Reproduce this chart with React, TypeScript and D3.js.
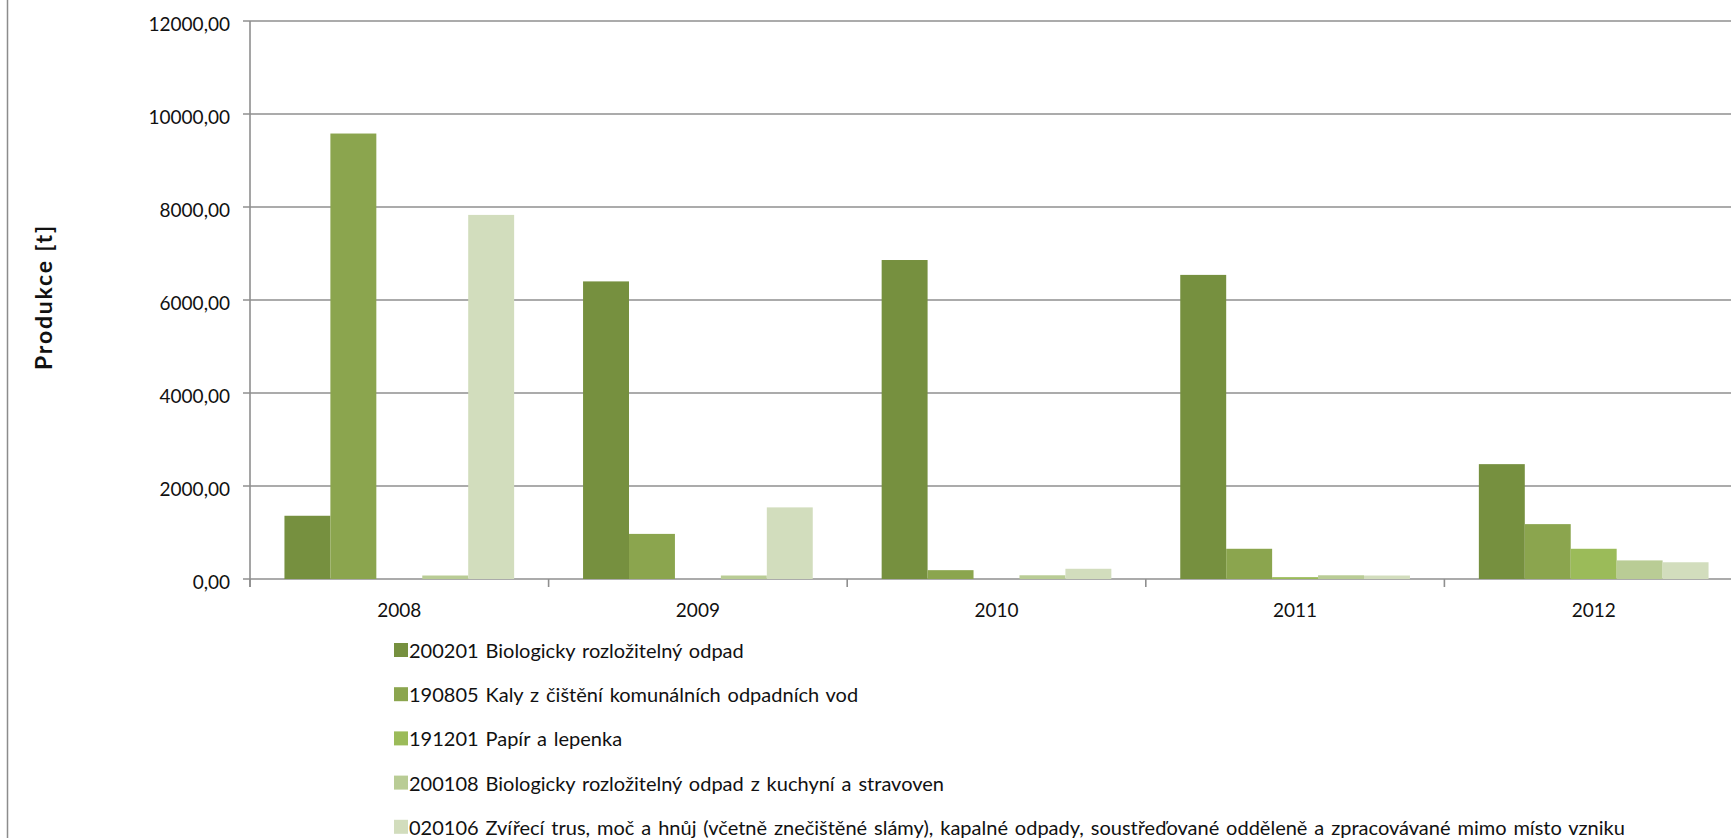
import React from "react";
import * as d3 from "d3";

const years = ["2008", "2009", "2010", "2011", "2012"];
const seriesNames = [
  "200201 Biologicky rozložitelný odpad",
  "190805 Kaly z čištění komunálních odpadních vod",
  "191201 Papír a lepenka",
  "200108 Biologicky rozložitelný odpad z kuchyní a stravoven",
  "020106 Zvířecí trus, moč a hnůj (včetně znečištěné slámy), kapalné odpady, soustřeďované odděleně a zpracovávané mimo místo vzniku",
];
const s200201 = [1360, 6400, 6860, 6540, 2470];
const s190805 = [9580, 970, 190, 650, 1180];
const s191201 = [0, 0, 0, 40, 650];
const s200108 = [75, 75, 80, 80, 400];
const s020106 = [7830, 1540, 220, 75, 360];
const seriesValues = [s200201, s190805, s191201, s200108, s020106];
const seriesColors = ["#76903f", "#8ba54e", "#9bbb59", "#b9cc95", "#d2ddbd"];
const yTicks = [0, 2000, 4000, 6000, 8000, 10000, 12000];
const yTitle = "Produkce [t]";

const W = 1731;
const H = 838;
const FONT = "Lato, 'Open Sans', sans-serif";

export default function App() {
  const x0 = d3.scaleBand<string>().domain(years).range([250, 1743]).paddingInner(0).paddingOuter(0);
  const x1 = d3
    .scaleBand<number>()
    .domain(seriesNames.map((_, i) => i))
    .range([0, x0.bandwidth()])
    .paddingInner(0)
    .paddingOuter(0.75);
  const y = d3.scaleLinear().domain([0, 12000]).range([579, 21]);
  const fmt = d3
    .formatLocale({ decimal: ",", thousands: "", grouping: [3], currency: ["", ""] })
    .format(".2f");

  const legendX = 394;
  const legendY0 = 650;
  const legendStep = 44.2;

  return (
    <div style={{ position: "absolute", left: 0, top: 0 }}>
      <svg width={W} height={H} style={{ display: "block", background: "#fff" }}>
        <line x1={7.5} x2={7.5} y1={0} y2={H} stroke="#8c8c8c" strokeWidth={1.5} />
        {yTicks.map((t) => (
          <line key={"g" + t} x1={243} x2={W} y1={y(t)} y2={y(t)} stroke="#8f8f8f" strokeWidth={1.6} />
        ))}
        <line x1={250} x2={250} y1={y(12000)} y2={y(0) + 8} stroke="#8f8f8f" strokeWidth={1.6} />
        {years.map((yr) => (
          <line key={"t" + yr} x1={x0(yr)!} x2={x0(yr)!} y1={y(0)} y2={y(0) + 8} stroke="#8f8f8f" strokeWidth={1.6} />
        ))}
        {years.map((yr, yi) => (
          <g key={"bars" + yr} transform={`translate(${x0(yr)},0)`}>
            {seriesValues.map((vals, si) => {
              const v = vals[yi];
              if (v <= 0) return null;
              return (
                <rect
                  key={si}
                  x={x1(si)!}
                  y={y(v)}
                  width={x1.bandwidth()}
                  height={y(0) - y(v)}
                  fill={seriesColors[si]}
                />
              );
            })}
          </g>
        ))}
        {yTicks.map((t) => (
          <text
            key={"l" + t}
            x={230}
            y={y(t) + 2}
            textAnchor="end"
            dominantBaseline="central"
            fontFamily={FONT}
            fontSize={19}
            fill="#111"
          >
            {fmt(t)}
          </text>
        ))}
        {years.map((yr) => (
          <text
            key={"x" + yr}
            x={x0(yr)! + x0.bandwidth() / 2}
            y={609}
            textAnchor="middle"
            dominantBaseline="central"
            fontFamily={FONT}
            fontSize={19}
            fill="#111"
          >
            {yr}
          </text>
        ))}
        <text
          transform={`translate(42.5,${(y(0) + y(12000)) / 2 - 3}) rotate(-90)`}
          textAnchor="middle"
          dominantBaseline="central"
          fontFamily={FONT}
          fontWeight="bold"
          fontSize={23}
          letterSpacing={1.8}
          fill="#111"
        >
          {yTitle}
        </text>
        {seriesNames.map((name, i) => (
          <g key={"leg" + i} transform={`translate(${legendX},${legendY0 + i * legendStep})`}>
            <rect x={0} y={-7} width={14} height={14} fill={seriesColors[i]} />
            <text
              x={15}
              y={0}
              dominantBaseline="central"
              fontFamily={FONT}
              fontSize={20}
              wordSpacing={1.8}
              fill="#111"
            >
              {name}
            </text>
          </g>
        ))}
      </svg>
    </div>
  );
}
